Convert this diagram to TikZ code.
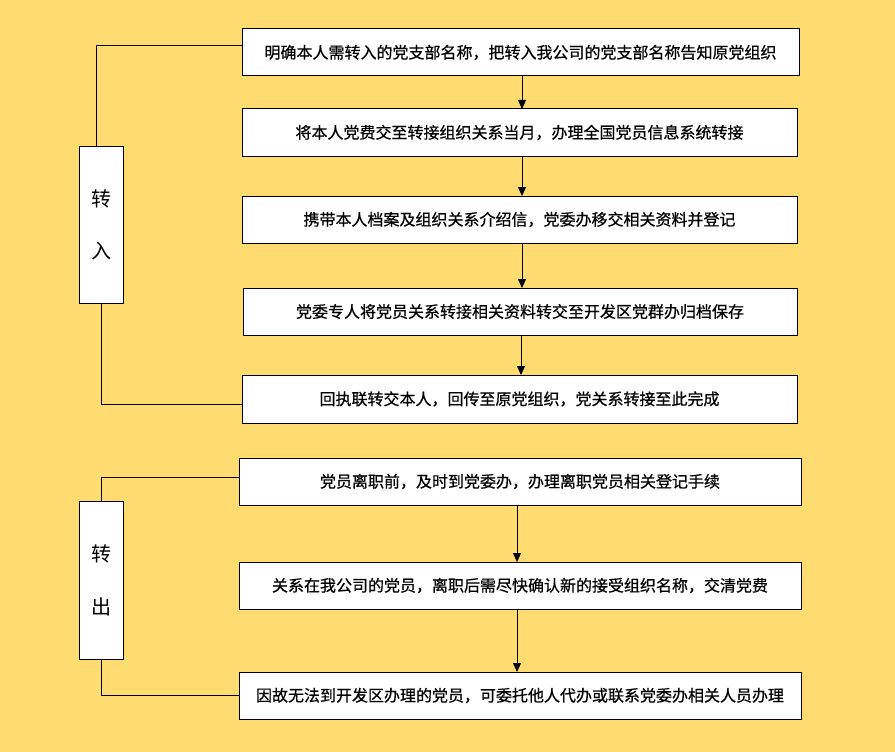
\documentclass[tikz,border=0pt]{standalone}
\usepackage{fontspec}
\setmainfont{Noto Sans CJK SC}
\newfontfamily\boxfont{Noto Sans CJK SC}[FakeBold=0.6]
\usetikzlibrary{arrows.meta}
\definecolor{bgyellow}{RGB}{255,219,112}
\tikzset{
  stepbox/.style={draw=black, line width=1pt, fill=white, inner sep=0pt, outer sep=0pt,
    minimum height=47pt, font=\boxfont\fontsize{16}{18}\selectfont},
  sidebox/.style={draw=black, line width=1pt, fill=white, inner sep=0pt, outer sep=0pt,
    minimum width=44pt, align=center},
  link/.style={draw=black, line width=1pt},
  arr/.style={draw=black, line width=1pt, -{Triangle[width=8pt,length=9pt]}}
}
\begin{document}
\begin{tikzpicture}[x=1pt,y=-1pt]
\fill[bgyellow] (0,0) rectangle (895,752);
\useasboundingbox (0,0) rectangle (895,752);

\node[stepbox, minimum width=557pt] (b1) at (520.5,52.5) {明确本人需转入的党支部名称，把转入我公司的党支部名称告知原党组织};
\node[stepbox, minimum width=555pt] (b2) at (519.5,132.5) {将本人党费交至转接组织关系当月，办理全国党员信息系统转接};
\node[stepbox, minimum width=555pt] (b3) at (519.5,219.5) {携带本人档案及组织关系介绍信，党委办移交相关资料并登记};
\node[stepbox, minimum width=554pt] (b4) at (520,311.5) {党委专人将党员关系转接相关资料转交至开发区党群办归档保存};
\node[stepbox, minimum width=555pt, minimum height=48pt] (b5) at (519.5,399) {回执联转交本人，回传至原党组织，党关系转接至此完成};
\node[sidebox, minimum height=157pt, font=\fontsize{20}{52}\selectfont] (L1) at (101,224.5) {转\\入};

\node[stepbox, minimum width=562pt] (b6) at (520,481.5) {党员离职前，及时到党委办，办理离职党员相关登记手续};
\node[stepbox, minimum width=562pt] (b7) at (520,585.5) {关系在我公司的党员，离职后需尽快确认新的接受组织名称，交清党费};
\node[stepbox, minimum width=562pt] (b8) at (520,695.5) {因故无法到开发区办理的党员，可委托他人代办或联系党委办相关人员办理};
\node[sidebox, minimum height=158pt, font=\fontsize{20}{53}\selectfont] (L2) at (101,580) {转\\出};

% arrows, upper group
\draw[arr] ([xshift=1.5pt]b1.south) -- ([xshift=1.5pt]b1.south |- b2.north);
\draw[arr] ([xshift=2.5pt]b2.south) -- ([xshift=2.5pt]b2.south |- b3.north);
\draw[arr] ([xshift=2.5pt]b3.south) -- ([xshift=2.5pt]b3.south |- b4.north);
\draw[arr] ([xshift=1pt]b4.south) -- ([xshift=1pt]b4.south |- b5.north);
% arrows, lower group
\draw[arr] ([xshift=-3pt]b6.south) -- ([xshift=-3pt]b6.south |- b7.north);
\draw[arr] ([xshift=-3pt]b7.south) -- ([xshift=-3pt]b7.south |- b8.north);

% side connectors
\draw[link] ([yshift=6.5pt]b1.west) -| ([xshift=-5pt]L1.north);
\draw[link] (L1.south) |- ([yshift=-5pt]b5.west);
\draw[link] ([yshift=4.5pt]b6.west) -| (L2.north);
\draw[link] (L2.south) |- (b8.west);
\end{tikzpicture}
\end{document}
